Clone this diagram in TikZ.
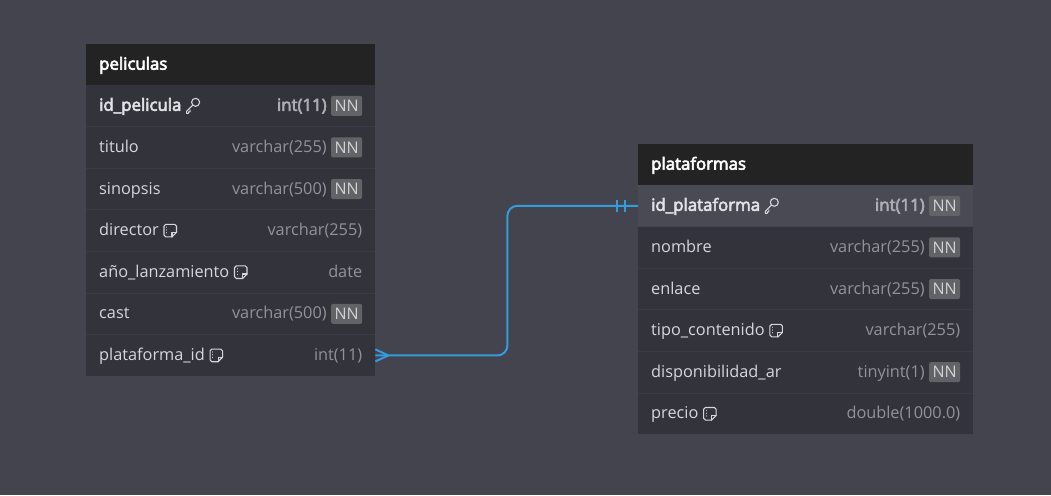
\documentclass[tikz,border=0pt]{standalone}
\usepackage{fontspec}
\setmainfont{Open Sans}[AutoFakeBold=3]
\newfontfamily\heavyfont{Open Sans}[BoldFeatures={FakeBold=1.3}, AutoFakeBold=3.5]
\usetikzlibrary{arrows.meta}
\definecolor{bg}{RGB}{67,68,77}
\definecolor{body}{RGB}{51,52,59}
\definecolor{head}{RGB}{35,35,36}
\definecolor{hil}{RGB}{73,74,83}
\definecolor{sep}{RGB}{59,60,67}
\definecolor{nmcol}{RGB}{214,214,219}
\definecolor{tycol}{RGB}{146,147,153}
\definecolor{nnbg}{RGB}{98,99,103}
\definecolor{nntx}{RGB}{210,210,212}
\definecolor{link}{RGB}{52,155,220}
\tikzset{
  rowbox/.style={fill=body, draw=none, minimum height=41.2pt, inner sep=0pt, anchor=north west},
  headbox/.style={fill=head, draw=none, minimum height=41pt, inner sep=0pt, anchor=north west},
  htext/.style={font=\heavyfont\fontsize{16.8}{19}\selectfont\bfseries, text=white, anchor=base west, inner sep=0pt},
  nm/.style={font=\fontsize{16.3}{19}\selectfont, text=nmcol, anchor=base west, inner sep=0pt},
  nmb/.style={nm, font=\heavyfont\fontsize{16.8}{19}\selectfont\bfseries, text={rgb,255:red,226;green,226;blue,230}},
  ty/.style={font=\fontsize{16.3}{19}\selectfont, text=tycol, anchor=base east, inner sep=0pt},
  tyb/.style={ty, font=\heavyfont\fontsize{16.8}{19}\selectfont\bfseries, text={rgb,255:red,172;green,173;blue,178}},
  nn/.style={fill=nnbg, text=nntx, font=\fontsize{16}{18}\selectfont, anchor=east, inner xsep=3.5pt, inner ysep=0pt, minimum height=20pt, rounded corners=1.5pt},
  sepline/.style={draw=sep, line width=0.7pt},
  conn/.style={draw=link, line width=2pt},
  ico/.style={draw=nmcol, line width=1.1pt, line join=round, line cap=round},
  pics/keyicon/.style={code={
    \draw[ico] (10,-3.5) circle (4);
    \draw[ico] (7.2,-0.7) -- (1,5.5) -- (1,7.5) -- (3,7.5) -- (3,6) -- (4.5,6) -- (4.5,4.3);
  }},
  pics/noteicon/.style={code={
    \draw[ico] (0,-4.5) -- (0,4.5) to[out=-90,in=180] (1.8,6.3) -- (8,6.3) -- (12.5,1.8) -- (12.5,-4.5) to[out=90,in=0] (10.7,-6.3) -- (1.8,-6.3) to[out=180,in=90] (0,-4.5) -- cycle;
    \draw[ico] (8,6.3) -- (8,1.8) -- (12.5,1.8);
    \draw[ico, line width=0.9pt] (2.8,-3.6) -- (2.8,-3.3) (2.8,-0.8) -- (2.8,-0.5) (2.8,2) -- (2.8,2.3);
  }},
}
\begin{document}
\begin{tikzpicture}[x=1pt,y=-1pt]
\fill[bg] (0,0) rectangle (1051,495);
\useasboundingbox (0,0) rectangle (1051,495);

% ---------- peliculas ----------
\node[headbox, minimum width=289pt] (ph) at (86,44) {};
\node[htext] (pht) at ([xshift=13pt,yshift=-5pt]ph.west) {peliculas};

\node[rowbox, minimum width=289pt] (p1) at (86,85) {};
\node[rowbox, minimum width=289pt] (p2) at (p1.south west) {};
\node[rowbox, minimum width=289pt] (p3) at (p2.south west) {};
\node[rowbox, minimum width=289pt] (p4) at (p3.south west) {};
\node[rowbox, minimum width=289pt] (p5) at (p4.south west) {};
\node[rowbox, minimum width=289pt] (p6) at (p5.south west) {};
\node[rowbox, minimum width=289pt] (p7) at (p6.south west) {};
\foreach \r in {p1,p2,p3,p4,p5,p6} {\draw[sepline] (\r.south west) -- (\r.south east);}

\node[nmb] (p1n) at ([xshift=13pt,yshift=-5pt]p1.west) {id\_pelicula};
\pic at ([xshift=4pt]p1n.east |- p1.west) {keyicon};
\node[nn] (p1b) at ([xshift=-13pt]p1.east) {NN};
\node[tyb] (p1t) at ([xshift=-4pt,yshift=-5pt]p1b.west |- p1.west) {int(11)};

\node[nm] (p2n) at ([xshift=13pt,yshift=-5pt]p2.west) {titulo};
\node[nn] (p2b) at ([xshift=-13pt]p2.east) {NN};
\node[ty] (p2t) at ([xshift=-4pt,yshift=-5pt]p2b.west |- p2.west) {varchar(255)};

\node[nm] (p3n) at ([xshift=13pt,yshift=-5pt]p3.west) {sinopsis};
\node[nn] (p3b) at ([xshift=-13pt]p3.east) {NN};
\node[ty] (p3t) at ([xshift=-4pt,yshift=-5pt]p3b.west |- p3.west) {varchar(500)};

\node[nm] (p4n) at ([xshift=13pt,yshift=-5pt]p4.west) {director};
\pic at ([xshift=5pt]p4n.east |- p4.west) {noteicon};
\node[ty] (p4t) at ([xshift=-13pt,yshift=-5pt]p4.east) {varchar(255)};

\node[nm] (p5n) at ([xshift=13pt,yshift=-5pt]p5.west) {año\_lanzamiento};
\pic at ([xshift=5pt]p5n.east |- p5.west) {noteicon};
\node[ty] (p5t) at ([xshift=-13pt,yshift=-5pt]p5.east) {date};

\node[nm] (p6n) at ([xshift=13pt,yshift=-5pt]p6.west) {cast};
\node[nn] (p6b) at ([xshift=-13pt]p6.east) {NN};
\node[ty] (p6t) at ([xshift=-4pt,yshift=-5pt]p6b.west |- p6.west) {varchar(500)};

\node[nm] (p7n) at ([xshift=13pt,yshift=-5pt]p7.west) {plataforma\_id};
\pic at ([xshift=5pt]p7n.east |- p7.west) {noteicon};
\node[ty] (p7t) at ([xshift=-13pt,yshift=-5pt]p7.east) {int(11)};

% ---------- plataformas ----------
\node[headbox, minimum width=335pt] (qh) at (638,144) {};
\node[htext] (qht) at ([xshift=13pt,yshift=-5pt]qh.west) {plataformas};

\node[rowbox, minimum width=335pt, fill=hil] (q1) at (638,185) {};
\node[rowbox, minimum width=335pt] (q2) at (q1.south west) {};
\node[rowbox, minimum width=335pt] (q3) at (q2.south west) {};
\node[rowbox, minimum width=335pt] (q4) at (q3.south west) {};
\node[rowbox, minimum width=335pt] (q5) at (q4.south west) {};
\node[rowbox, minimum width=335pt] (q6) at (q5.south west) {};
\foreach \r in {q2,q3,q4,q5} {\draw[sepline] (\r.south west) -- (\r.south east);}

\node[nmb] (q1n) at ([xshift=13pt,yshift=-5pt]q1.west) {id\_plataforma};
\pic at ([xshift=4pt]q1n.east |- q1.west) {keyicon};
\node[nn] (q1b) at ([xshift=-13pt]q1.east) {NN};
\node[tyb] (q1t) at ([xshift=-4pt,yshift=-5pt]q1b.west |- q1.west) {int(11)};

\node[nm] (q2n) at ([xshift=13pt,yshift=-5pt]q2.west) {nombre};
\node[nn] (q2b) at ([xshift=-13pt]q2.east) {NN};
\node[ty] (q2t) at ([xshift=-4pt,yshift=-5pt]q2b.west |- q2.west) {varchar(255)};

\node[nm] (q3n) at ([xshift=13pt,yshift=-5pt]q3.west) {enlace};
\node[nn] (q3b) at ([xshift=-13pt]q3.east) {NN};
\node[ty] (q3t) at ([xshift=-4pt,yshift=-5pt]q3b.west |- q3.west) {varchar(255)};

\node[nm] (q4n) at ([xshift=13pt,yshift=-5pt]q4.west) {tipo\_contenido};
\pic at ([xshift=5pt]q4n.east |- q4.west) {noteicon};
\node[ty] (q4t) at ([xshift=-13pt,yshift=-5pt]q4.east) {varchar(255)};

\node[nm] (q5n) at ([xshift=13pt,yshift=-5pt]q5.west) {disponibilidad\_ar};
\node[nn] (q5b) at ([xshift=-13pt]q5.east) {NN};
\node[ty] (q5t) at ([xshift=-4pt,yshift=-5pt]q5b.west |- q5.west) {tinyint(1)};

\node[nm] (q6n) at ([xshift=13pt,yshift=-5pt]q6.west) {precio};
\pic at ([xshift=5pt]q6n.east |- q6.west) {noteicon};
\node[ty] (q6t) at ([xshift=-13pt,yshift=-5pt]q6.east) {double(1000.0)};

% ---------- connector ----------
\coordinate (bend) at ([xshift=132pt]p7.east);
\draw[conn, rounded corners=10pt] (p7.east) -- (bend) |- (q1.west);
\draw[conn, line join=round] ([yshift=-6pt]p7.east) -- ([xshift=13pt]p7.east) -- ([yshift=6pt]p7.east);
\draw[conn] ([xshift=-21pt,yshift=-6pt]q1.west) -- ([xshift=-21pt,yshift=6pt]q1.west);
\draw[conn] ([xshift=-13pt,yshift=-6pt]q1.west) -- ([xshift=-13pt,yshift=6pt]q1.west);
\end{tikzpicture}
\end{document}
